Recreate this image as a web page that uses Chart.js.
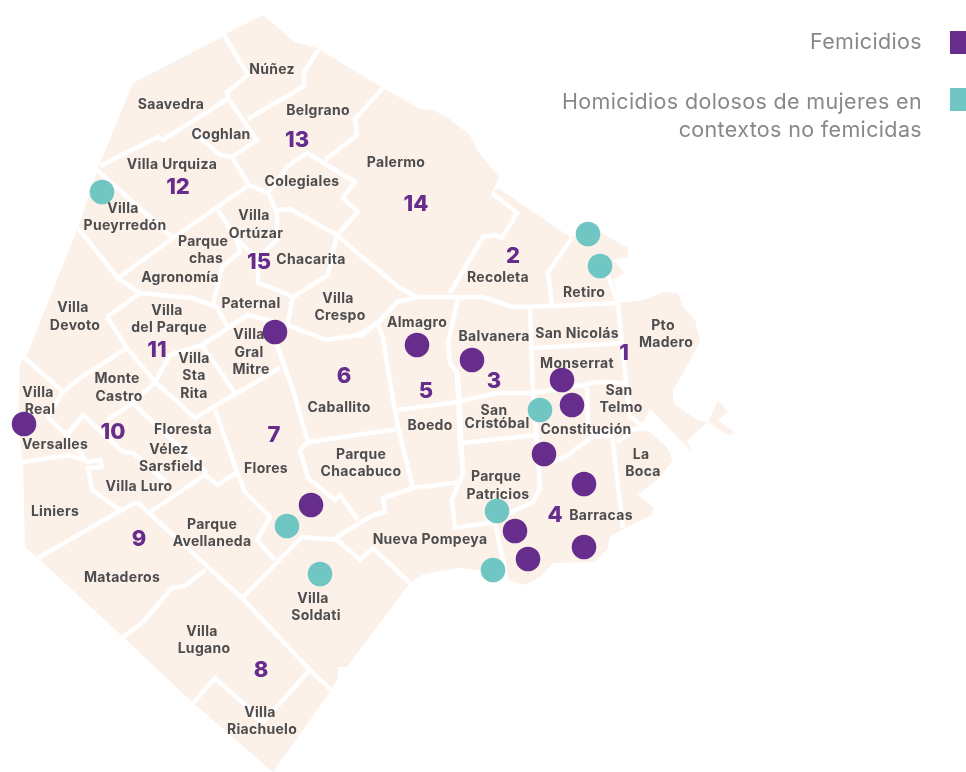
<!DOCTYPE html>
<html>
<head>
<meta charset="utf-8">
<style>
  html, body { margin: 0; padding: 0; background: #fff; }
  #wrap { width: 966px; height: 772px; }
</style>
<script src="https://cdn.jsdelivr.net/npm/chart.js@4"></script>
</head>
<body>
<div id="wrap"><canvas id="mapa"></canvas></div>
<script>
const femicidios = [[275,332],[24,424],[417,345],[472,360],[562,380],[572,405],[544,454],[584,484],[584,547],[515,531],[528,559],[311,505]];
const homicidios = [[102,192],[588,234],[600,266],[540,410],[497,511],[493,570],[287,526],[320,574]];

const contorno = [[263,15],[295,42],[317,48],[383,88],[420,109],[433,110],[447,117],[470,135],[477,150],[499,177],[492,193],[498,188],[570,237],[600,232],[628,248],[628,257],[613,260],[625,273],[613,280],[620,303],[643,300],[663,292],[678,293],[683,307],[695,320],[700,342],[683,373],[673,390],[673,403],[697,420],[708,422],[718,400],[728,412],[718,420],[735,433],[728,435],[708,422],[687,441],[693,453],[650,409],[643,423],[630,429],[647,430],[667,447],[673,460],[660,477],[638,495],[653,507],[652,515],[625,528],[610,537],[608,548],[595,562],[553,563],[540,577],[525,585],[508,580],[493,572],[460,568],[430,573],[422,575],[410,583],[347,667],[338,667],[338,678],[330,692],[273,772],[193,703],[123,637],[38,558],[25,547],[23,463],[18,420],[20,363],[27,355],[77,230],[100,163],[133,83],[222,37],[227,33]];

const calles = [
  [[224,35],[248,75],[227,92],[229,100]],
  [[318,50],[304,73],[304,86],[248,119]],
  [[229,100],[257,140],[232,157],[220,155],[193,132]],
  [[100,166],[158,137],[163,140],[229,98]],
  [[232,157],[249,185]],
  [[249,185],[173,238],[118,278]],
  [[97,170],[173,238]],
  [[78,228],[118,278],[140,293],[192,298],[217,307],[228,328],[248,315],[287,325]],
  [[249,185],[268,193],[287,167],[307,153],[355,182],[343,198],[358,212],[337,235]],
  [[383,88],[355,119],[357,135],[325,160]],
  [[268,193],[277,213],[277,240],[258,258],[258,283],[277,290],[293,297],[287,325],[327,340],[358,335],[378,323],[397,302],[417,297]],
  [[277,210],[290,209],[337,235],[328,275],[293,297]],
  [[218,210],[237,240],[240,252],[222,267],[213,305]],
  [[237,240],[258,258]],
  [[337,235],[360,255],[400,288],[417,297],[483,297],[512,307],[553,306],[617,303]],
  [[492,193],[517,213],[502,238],[495,235],[483,237],[450,293]],
  [[572,238],[548,272],[552,305]],
  [[607,273],[618,303],[627,393],[630,417],[647,428]],
  [[530,307],[533,393],[538,453],[540,488],[533,502],[510,513],[493,522],[455,528],[452,500],[463,473],[458,373]],
  [[533,348],[623,343]],
  [[398,410],[457,402],[497,393],[533,393],[583,385],[598,382],[627,383]],
  [[587,387],[588,433],[610,432],[647,428]],
  [[553,462],[568,455],[592,437],[613,435]],
  [[612,435],[623,528]],
  [[617,442],[630,433]],
  [[458,298],[448,343],[450,363],[457,373],[460,442],[463,473]],
  [[462,443],[537,435]],
  [[360,337],[377,323],[383,337],[388,370],[398,427],[413,488],[462,482]],
  [[308,442],[398,429]],
  [[275,340],[293,390],[308,442],[300,450],[308,478],[335,500],[340,495],[358,520]],
  [[335,538],[373,515],[385,512],[383,498],[413,488]],
  [[215,410],[237,472],[245,492],[270,517],[257,540],[275,560]],
  [[242,598],[302,537],[337,540],[360,560],[373,548],[410,583]],
  [[495,523],[507,580]],
  [[137,502],[242,598],[310,670],[333,692]],
  [[38,558],[118,512],[137,502]],
  [[150,512],[205,475],[218,485],[237,472]],
  [[22,462],[70,455],[87,462],[100,460],[102,467],[88,468],[92,490],[120,510]],
  [[47,417],[67,435],[83,415],[123,452],[133,453],[167,483]],
  [[67,435],[87,462]],
  [[25,358],[63,392],[47,417]],
  [[63,392],[80,378],[127,348],[155,382],[195,418],[237,393],[280,368]],
  [[107,420],[133,403],[207,473]],
  [[133,403],[155,382],[170,355],[202,345],[228,328]],
  [[202,345],[235,393]],
  [[107,317],[140,293]],
  [[107,317],[127,348]],
  [[193,703],[215,678],[245,705],[262,723]],
  [[123,637],[143,622],[172,588],[185,586],[205,570]],
  [[310,670],[262,723]]
];

const barrios = ['Núñez','Saavedra','Belgrano','Coghlan','Villa Urquiza','Palermo','Colegiales','Villa','Pueyrredón','Villa','Ortúzar','Parque','chas','Agronomía','Chacarita','Recoleta','Retiro','Paternal','Villa','Crespo','Villa','Devoto','Villa','del Parque','Almagro','Balvanera','San Nicolás','Pto','Madero','Villa','Gral','Mitre','Villa','Sta','Rita','Monserrat','Monte','Castro','Villa','Real','San','Telmo','Caballito','San','Cristóbal','Boedo','Constitución','Floresta','Versalles','Vélez','Sarsfield','Parque','Chacabuco','La','Boca','Flores','Parque','Patricios','Villa Luro','Liniers','Barracas','Parque','Avellaneda','Nueva Pompeya','Mataderos','Villa','Soldati','Villa','Lugano','Villa','Riachuelo'];
const barriosX = [272,171,318,221,172,396,302,123,125,254,256,203,206,180,311,498,584,251,338,340,73,75,167,169,417,494,577,663,666,249,249,251,194,194,194,577,117,119,38,40,619,621,339,494,497,430,586,183,55,169,171,361,361,641,643,266,496,498,139,55,601,212,212,430,122,313,316,202,204,260,262];
const barriosY = [69,104,110,134,164,162,181,208,225,215,233,241,258,277,259,277,292,303,298,315,307,325,310,327,322,336,333,325,342,334,352,369,358,375,393,363,378,396,392,409,390,407,407,410,423,425,429,429,444,449,466,454,471,454,471,468,476,494,486,511,515,524,541,539,577,598,615,631,648,712,729];

const comunas = ['13','12','14','2','15','11','6','3','1','5','10','7','9','4','8'];
const comunasX = [297,178,416,513,259,157,344,494,624,426,113,274,139,555,261];
const comunasY = [139,186,203,255,261,349,375,380,352,390,431,434,538,514,669];

const leyendaTextos = ['Femicidios','Homicidios dolosos de mujeres en','contextos no femicidas'];
const leyendaY = [42,102,130];

const toPoints = list => list.map(p => ({x: p[0], y: p[1]}));
// las calles van en un solo dataset, separadas con huecos
const callesPuntos = [];
calles.forEach(c => {
  toPoints(c).forEach(p => callesPuntos.push(p));
  callesPuntos.push({x: null, y: null});
});

const textos = {
  id: 'textos',
  // rotulos entre las calles y los puntos
  afterDatasetDraw(chart, args) {
    if (args.index !== 1) return;
    const {ctx, scales} = chart;
    ctx.save();
    ctx.textBaseline = 'middle';
    ctx.textAlign = 'center';
    ctx.fillStyle = '#4d4d4f';
    ctx.font = '700 14px Inter';
    ctx.letterSpacing = '0.3px';
    barrios.forEach((b, i) => {
      ctx.fillText(b, scales.x.getPixelForValue(barriosX[i]), scales.y.getPixelForValue(barriosY[i]) + 1);
    });
    ctx.fillStyle = '#662d8c';
    ctx.font = '800 22px Inter';
    ctx.letterSpacing = '0px';
    comunas.forEach((c, i) => {
      ctx.fillText(c, scales.x.getPixelForValue(comunasX[i]), scales.y.getPixelForValue(comunasY[i]) + 1);
    });
    ctx.textAlign = 'right';
    ctx.fillStyle = '#87888a';
    ctx.font = '400 21.5px Inter';
    ctx.letterSpacing = '0.35px';
    leyendaTextos.forEach((t, i) => {
      ctx.fillText(t, scales.x.getPixelForValue(922), scales.y.getPixelForValue(leyendaY[i]) + 1);
    });
    ctx.restore();
  }
};

new Chart(document.getElementById('mapa'), {
  type: 'scatter',
  data: {
    datasets: [
      {label: 'Ciudad', data: toPoints(contorno), showLine: true, fill: 'shape', order: 5,
        backgroundColor: '#fcf1e9', borderColor: '#fcf1e9', borderWidth: 0, pointRadius: 0},
      {label: 'Calles', data: callesPuntos, showLine: true, spanGaps: false, order: 4,
        borderColor: '#ffffff', borderWidth: 4.5, pointRadius: 0, borderJoinStyle: 'miter'},
      {label: 'Femicidios', data: toPoints(femicidios), order: 2,
        backgroundColor: '#662d8c', borderWidth: 0, pointRadius: 12.3},
      {label: 'Homicidios dolosos de mujeres en contextos no femicidas', data: toPoints(homicidios), order: 1,
        backgroundColor: '#70c6c3', borderWidth: 0, pointRadius: 12.3},
      {label: 'Leyenda femicidios', data: [{x: 961.5, y: 42.5}], order: 2, clip: false,
        backgroundColor: '#662d8c', borderWidth: 0, pointStyle: 'rect', pointRadius: 16.3},
      {label: 'Leyenda homicidios', data: [{x: 961.5, y: 99.5}], order: 1, clip: false,
        backgroundColor: '#70c6c3', borderWidth: 0, pointStyle: 'rect', pointRadius: 16.3}
    ]
  },
  options: {
    responsive: true,
    maintainAspectRatio: false,
    animation: false,
    layout: {padding: 0, autoPadding: false},
    plugins: {legend: {display: false}, tooltip: {enabled: false}},
    scales: {
      x: {type: 'linear', min: 0, max: 966, display: false},
      y: {type: 'linear', min: 0, max: 772, reverse: true, display: false}
    }
  },
  plugins: [textos]
});
</script>
</body>
</html>
